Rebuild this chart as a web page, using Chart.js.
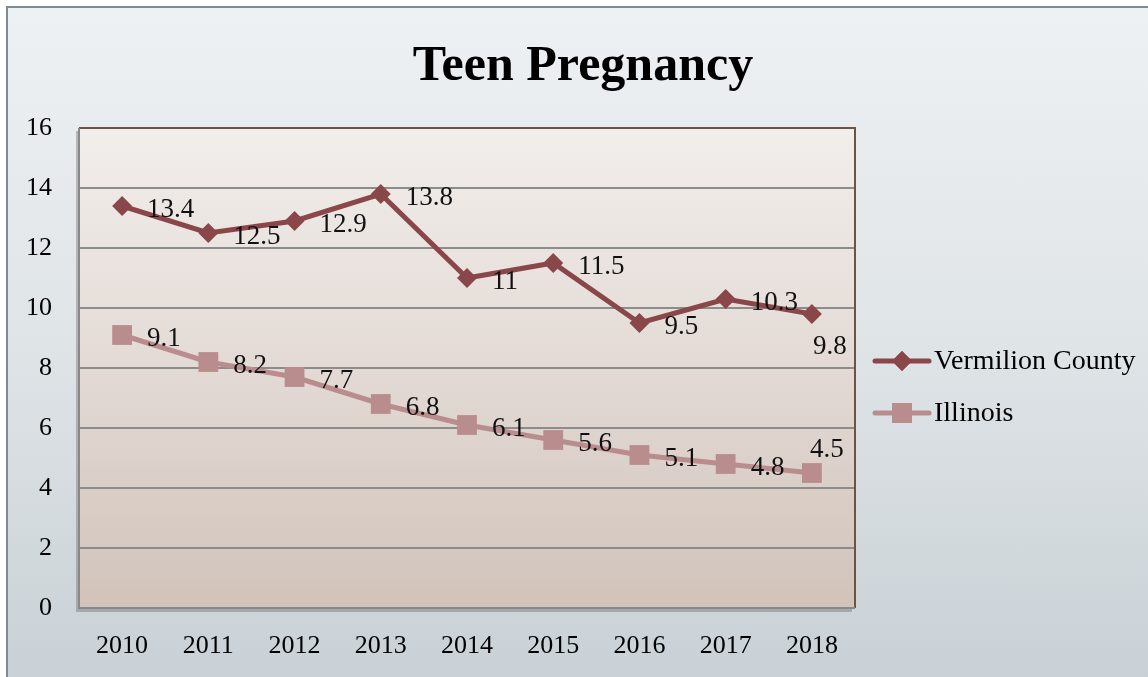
<!DOCTYPE html>
<html>
<head>
<meta charset="utf-8">
<script src="https://cdn.jsdelivr.net/npm/chart.js@4.4.1/dist/chart.umd.min.js"></script>
<style>
  html, body { margin: 0; padding: 0; background: #ffffff; overflow: hidden; }
  #frame {
    position: absolute; left: 6px; top: 6px; width: 1142px; height: 671px;
    border-left: 2px solid #808a90; border-top: 2px solid #808a90;
    background: linear-gradient(to bottom, #eef1f3 0%, #dfe4e7 50%, #c9d1d6 100%);
  }
  #c { position: absolute; left: 0; top: 0; }
</style>
</head>
<body>
<div id="frame"><canvas id="c" width="1140" height="669"></canvas></div>
<script>
const years = ['2010','2011','2012','2013','2014','2015','2016','2017','2018'];
const vermilion = [13.4, 12.5, 12.9, 13.8, 11, 11.5, 9.5, 10.3, 9.8];
const illinois = [9.1, 8.2, 7.7, 6.8, 6.1, 5.6, 5.1, 4.8, 4.5];
const seriesNames = ['Vermilion County', 'Illinois'];
const yTicks = [0, 2, 4, 6, 8, 10, 12, 14, 16];
const chartTitle = 'Teen Pregnancy';

const FONT = '"Liberation Serif", "DejaVu Serif", serif';
const C_VERM = '#8a4749';
const C_ILL = '#b98d8e';

const bgPlugin = {
  id: 'plotBg',
  beforeDraw(chart) {
    const { ctx, chartArea: a } = chart;
    ctx.save();
    ctx.fillStyle = 'rgba(90,90,90,0.35)';
    ctx.fillRect(a.left - 3, a.top + 3, a.right - a.left, a.bottom - a.top + 1);
    const g = ctx.createLinearGradient(0, a.top, 0, a.bottom);
    g.addColorStop(0, '#f2eeeb');
    g.addColorStop(0.5, '#e3dad5');
    g.addColorStop(1, '#d1c3ba');
    ctx.fillStyle = g;
    ctx.fillRect(a.left, a.top, a.right - a.left, a.bottom - a.top);
    ctx.restore();
  },
  beforeDatasetsDraw(chart) {
    const { ctx, chartArea: a } = chart;
    ctx.save();
    ctx.lineWidth = 2;
    ctx.strokeStyle = '#6b5443';
    ctx.beginPath();
    ctx.moveTo(a.left, a.top); ctx.lineTo(a.right, a.top); ctx.lineTo(a.right, a.bottom);
    ctx.stroke();
    ctx.strokeStyle = '#888888';
    ctx.beginPath();
    ctx.moveTo(a.left, a.top); ctx.lineTo(a.left, a.bottom); ctx.lineTo(a.right, a.bottom);
    ctx.stroke();
    ctx.restore();
  }
};

const labelPlugin = {
  id: 'valueLabels',
  afterDatasetsDraw(chart) {
    const { ctx } = chart;
    ctx.save();
    ctx.font = '27px ' + FONT;
    ctx.fillStyle = '#111';
    ctx.textBaseline = 'middle';
    ctx.textAlign = 'left';
    chart.data.datasets.forEach((ds, di) => {
      const meta = chart.getDatasetMeta(di);
      meta.data.forEach((pt, i) => {
        const last = i === ds.data.length - 1;
        let dx = 25, dy = 4;
        if (last && di === 0) { dx = 1; dy = 33; }
        if (last && di === 1) { dx = -2; dy = -23; }
        ctx.fillText(String(ds.data[i]), pt.x + dx, pt.y + dy);
      });
    });
    ctx.restore();
  }
};

const titleLegendPlugin = {
  id: 'titleLegend',
  afterDraw(chart) {
    const { ctx } = chart;
    ctx.save();
    ctx.fillStyle = '#000';
    ctx.font = 'bold 50px ' + FONT;
    ctx.textAlign = 'center';
    ctx.textBaseline = 'alphabetic';
    ctx.fillText(chartTitle, 575, 72);
    const items = [
      { name: seriesNames[0], color: C_VERM, style: 'rectRot', r: 10, y: 353 },
      { name: seriesNames[1], color: C_ILL, style: 'rect', r: 14, y: 405 }
    ];
    ctx.textBaseline = 'middle';
    items.forEach(it => {
      ctx.strokeStyle = it.color;
      ctx.lineWidth = 5;
      ctx.lineCap = 'round';
      ctx.beginPath();
      ctx.moveTo(867, it.y); ctx.lineTo(921, it.y);
      ctx.stroke();
      ctx.fillStyle = it.color;
      Chart.helpers.drawPoint(ctx, { pointStyle: it.style, radius: it.r, borderWidth: 0 }, 894, it.y);
      ctx.fill();
      ctx.fillStyle = '#000';
      ctx.font = '28px ' + FONT;
      ctx.textAlign = 'left';
      ctx.fillText(it.name, 926, it.y + 1);
    });
    ctx.restore();
  }
};

new Chart(document.getElementById('c'), {
  type: 'line',
  data: {
    labels: years,
    datasets: [
      {
        label: seriesNames[0], data: vermilion,
        borderColor: C_VERM, backgroundColor: C_VERM, borderWidth: 5,
        pointStyle: 'rectRot', pointRadius: 10, pointBorderWidth: 0,
        pointBackgroundColor: C_VERM, tension: 0
      },
      {
        label: seriesNames[1], data: illinois,
        borderColor: C_ILL, backgroundColor: C_ILL, borderWidth: 5,
        pointStyle: 'rect', pointRadius: 14, pointBorderWidth: 0,
        pointBackgroundColor: C_ILL, tension: 0
      }
    ]
  },
  options: {
    responsive: false,
    animation: false,
    events: [],
    layout: { padding: { top: 120, left: 0, right: 293, bottom: 0 } },
    plugins: { legend: { display: false }, title: { display: false }, tooltip: { enabled: false } },
    scales: {
      x: {
        offset: true,
        grid: { display: false, drawTicks: false },
        border: { display: false },
        ticks: { color: '#000', font: { family: FONT, size: 26 }, padding: 23, maxRotation: 0 },
        afterFit(s) { s.height = 69; }
      },
      y: {
        min: 0, max: 16,
        afterBuildTicks(s) { s.ticks = yTicks.map(v => ({ value: v })); },
        grid: { color: '#8c8c8c', lineWidth: 2, drawTicks: false },
        border: { display: false },
        ticks: { color: '#000', font: { family: FONT, size: 26 }, padding: 27 },
        afterFit(s) { s.width = 71; }
      }
    }
  },
  plugins: [bgPlugin, labelPlugin, titleLegendPlugin]
});
</script>
</body>
</html>
